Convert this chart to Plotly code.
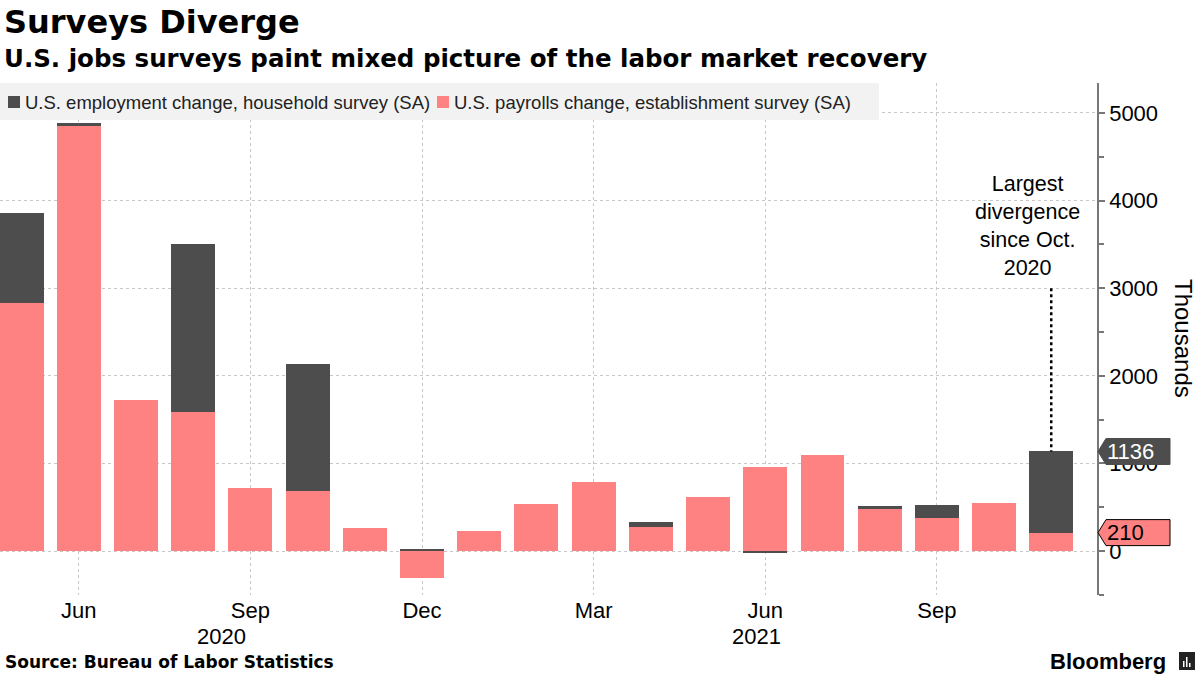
import plotly.graph_objects as go

# ---- data ----
months = ["May 2020", "Jun 2020", "Jul 2020", "Aug 2020", "Sep 2020", "Oct 2020", "Nov 2020",
          "Dec 2020", "Jan 2021", "Feb 2021", "Mar 2021", "Apr 2021", "May 2021", "Jun 2021",
          "Jul 2021", "Aug 2021", "Sep 2021", "Oct 2021", "Nov 2021"]
household = [3860, 4880, 1350, 3510, 275, 2130, 150, 25, 201, 208, 609, 328, 444, -18,
             1043, 509, 526, 359, 1136]
payrolls = [2833, 4846, 1726, 1583, 716, 680, 264, -306, 233, 536, 785, 269, 614, 962,
            1091, 483, 379, 546, 210]
tick_idx = [1, 4, 7, 10, 13, 16]
tick_text = ["Jun", "Sep", "Dec", "Mar", "Jun", "Sep"]
year_labels = ["2020", "2021"]
year_pos = [3.5, 12.85]
y_ticks = [0, 1000, 2000, 3000, 4000, 5000]
series_names = ["U.S. employment change, household survey (SA)",
                "U.S. payrolls change, establishment survey (SA)"]
note_text = "Largest<br>divergence<br>since Oct.<br>2020"
note_level = 3000

DARK = "#4d4d4d"
SALMON = "#ff8282"
FONT = "Liberation Sans"
BOLD = "DejaVu Sans"

x = list(range(len(months)))

# layout geometry (pixels)
W, H = 1200, 675
L, R, T, B = 0, 103, 83, 80
PW, PH = W - L - R, H - T - B


def px(xp):
    return (xp - L) / PW


def py(yp):
    return (H - B - yp) / PH


fig = go.Figure()
fig.add_trace(go.Bar(x=x, y=household, name=series_names[0], marker_color=DARK,
                     marker_line_width=0, width=0.767, showlegend=False,
                     customdata=months, hovertemplate="%{customdata}: %{y}<extra></extra>"))
fig.add_trace(go.Bar(x=x, y=payrolls, name=series_names[1], marker_color=SALMON,
                     marker_line_width=0, width=0.767, showlegend=False,
                     customdata=months, hovertemplate="%{customdata}: %{y}<extra></extra>"))

y0, y1 = -502, 5342
upp = (y1 - y0) / PH  # data units per pixel

shapes = []
annotations = []

# legend band
shapes.append(dict(type="rect", xref="paper", yref="paper", x0=px(0), x1=px(879),
                   y0=py(120), y1=py(83), fillcolor="#f2f2f2", line_width=0, layer="above"))
legend_items = [(8, 23, DARK, series_names[0]), (437, 452, SALMON, series_names[1])]
for sx, tx, col, name in legend_items:
    shapes.append(dict(type="rect", xref="paper", yref="paper", x0=px(sx), x1=px(sx + 12),
                       y0=py(108), y1=py(96), fillcolor=col, line_width=0, layer="above"))
    annotations.append(dict(xref="paper", yref="paper", x=px(tx), y=py(102), xanchor="left",
                            yanchor="middle", text=name, showarrow=False,
                            font=dict(family=FONT, size=18.5, color="#222")))

# divergence note with dotted line
last = len(months) - 1
shapes.append(dict(type="line", xref="x", yref="y", x0=x[last], x1=x[last], y0=note_level,
                   y1=household[last], line=dict(color="black", width=2.5, dash="dot"),
                   layer="above"))
annotations.append(dict(xref="x", yref="y", x=x[last], y=note_level, xshift=-24, yshift=6,
                        xanchor="center", yanchor="bottom", text=note_text, showarrow=False,
                        align="center", font=dict(family=FONT, size=21.5, color="black")))

# value tags on the right axis
for val, fill, line_col, txt_col in [(household[last], DARK, DARK, "white"),
                                     (payrolls[last], SALMON, "black", "black")]:
    h = 13 * upp
    xa, xb, xc = px(1098), px(1106), px(1170)
    path = (f"M {xa},{val} L {xb},{val + h} L {xc},{val + h} L {xc},{val - h} "
            f"L {xb},{val - h} Z")
    shapes.append(dict(type="path", xref="paper", yref="y", path=path, fillcolor=fill,
                       line=dict(color=line_col, width=1), layer="above"))
    annotations.append(dict(xref="paper", yref="y", x=px(1105), y=val, xanchor="left",
                            yanchor="middle", text=f"{val}", showarrow=False,
                            font=dict(family=FONT, size=22, color=txt_col)))

# year labels
for lab, pos in zip(year_labels, year_pos):
    annotations.append(dict(xref="x", yref="paper", x=pos, y=py(622), xanchor="center",
                            yanchor="top", text=lab, showarrow=False,
                            font=dict(family=FONT, size=22, color="black")))

# axis title
annotations.append(dict(xref="paper", yref="paper", x=px(1184), y=py(338), xanchor="center",
                        yanchor="middle", text="Thousands", textangle=90, showarrow=False,
                        font=dict(family=FONT, size=24, color="black")))

# titles and source
annotations.append(dict(xref="paper", yref="paper", x=px(2), y=py(1), xanchor="left",
                        yanchor="top", text="<b>Surveys Diverge</b>", showarrow=False,
                        font=dict(family=BOLD, size=32, color="black")))
annotations.append(dict(xref="paper", yref="paper", x=px(2), y=py(42), xanchor="left",
                        yanchor="top",
                        text="<b>U.S. jobs surveys paint mixed picture of the labor market recovery</b>",
                        showarrow=False, font=dict(family=BOLD, size=24.5, color="black")))
annotations.append(dict(xref="paper", yref="paper", x=px(3), y=py(662), xanchor="left",
                        yanchor="middle", text="<b>Source: Bureau of Labor Statistics</b>",
                        showarrow=False, font=dict(family=BOLD, size=17, color="black")))
annotations.append(dict(xref="paper", yref="paper", x=px(1168), y=py(661), xanchor="right",
                        yanchor="middle", text="<b>Bloomberg</b>", showarrow=False,
                        font=dict(family=FONT, size=22, color="black")))
# small logo mark
shapes.append(dict(type="rect", xref="paper", yref="paper", x0=px(1179), x1=px(1195),
                   y0=py(670), y1=py(652), fillcolor="#222", line_width=0, layer="above"))
for bx, top in [(1183, 661), (1186, 657), (1189, 663)]:
    shapes.append(dict(type="rect", xref="paper", yref="paper", x0=px(bx), x1=px(bx + 1.5),
                       y0=py(667), y1=py(top), fillcolor="white", line_width=0, layer="above"))

fig.update_layout(
    width=W, height=H,
    margin=dict(l=L, r=R, t=T, b=B),
    paper_bgcolor="white", plot_bgcolor="white",
    barmode="overlay", bargap=0,
    font=dict(family=FONT, color="black"),
    shapes=shapes, annotations=annotations,
    showlegend=False,
)
fig.update_xaxes(range=[-0.378, 18.80], tickvals=tick_idx, ticktext=tick_text,
                 showgrid=True, gridcolor="#c8c8c8", griddash="dot", gridwidth=1,
                 showline=False, zeroline=False, ticks="", tickfont=dict(size=22, family=FONT))
fig.update_yaxes(range=[y0, y1], side="right", tickvals=y_ticks,
                 showgrid=True, gridcolor="#c8c8c8", griddash="dot", gridwidth=1,
                 zeroline=False, showline=True, linecolor="#777", linewidth=1.5,
                 ticks="outside", ticklen=6, tickwidth=2, tickcolor="#777",
                 minor=dict(dtick=500, tick0=0, ticks="outside", ticklen=5, tickcolor="#777",
                            showgrid=False),
                 tickfont=dict(size=22, family=FONT))

fig.write_html("out.html")
